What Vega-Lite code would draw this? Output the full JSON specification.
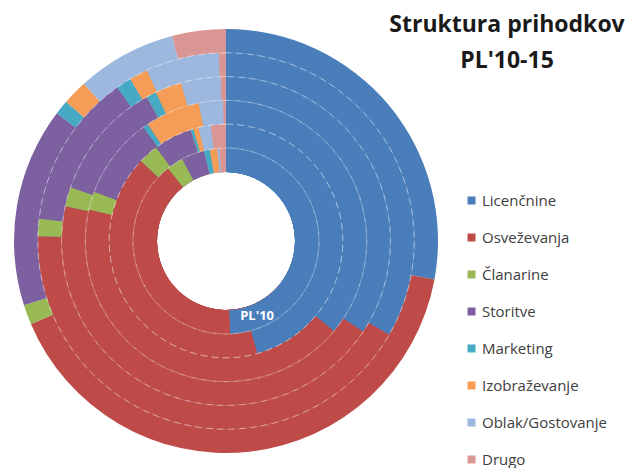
{
  "$schema": "https://vega.github.io/schema/vega-lite/v6.json",
  "width": 452,
  "height": 250,
  "autosize": {"type": "pad"},
  "padding": {"top": 14, "left": 0, "right": 0, "bottom": 0},
  "background": "white",
  "config": {"view": {"stroke": null}, "font": "Open Sans"},
  "title": {
    "text": ["Struktura prihodkov", "PL'10-15"],
    "orient": "top",
    "anchor": "start",
    "frame": "group",
    "align": "center",
    "offset": -44,
    "dx": 507,
    "font": "Open Sans",
    "fontSize": 23,
    "fontWeight": "bold",
    "lineHeight": 36,
    "color": "#1a1a1a"
  },
  "data": {
    "values": [
      {"year": "PL'15", "cat": "Licenčnine", "idx": 1, "value": 27.9},
      {"year": "PL'15", "cat": "Osveževanja", "idx": 2, "value": 40.7},
      {"year": "PL'15", "cat": "Članarine", "idx": 3, "value": 1.5},
      {"year": "PL'15", "cat": "Storitve", "idx": 4, "value": 15.2},
      {"year": "PL'15", "cat": "Marketing", "idx": 5, "value": 1.1},
      {"year": "PL'15", "cat": "Izobraževanje", "idx": 6, "value": 1.9},
      {"year": "PL'15", "cat": "Oblak/Gostovanje", "idx": 7, "value": 7.6},
      {"year": "PL'15", "cat": "Drugo", "idx": 8, "value": 4.1},
      {"year": "PL'14", "cat": "Licenčnine", "idx": 1, "value": 33.3},
      {"year": "PL'14", "cat": "Osveževanja", "idx": 2, "value": 42.1},
      {"year": "PL'14", "cat": "Članarine", "idx": 3, "value": 1.5},
      {"year": "PL'14", "cat": "Storitve", "idx": 4, "value": 13.3},
      {"year": "PL'14", "cat": "Marketing", "idx": 5, "value": 1.3},
      {"year": "PL'14", "cat": "Izobraževanje", "idx": 6, "value": 1.6},
      {"year": "PL'14", "cat": "Oblak/Gostovanje", "idx": 7, "value": 6.3},
      {"year": "PL'14", "cat": "Drugo", "idx": 8, "value": 0.6},
      {"year": "PL'13", "cat": "Licenčnine", "idx": 1, "value": 34.3},
      {"year": "PL'13", "cat": "Osveževanja", "idx": 2, "value": 44.1},
      {"year": "PL'13", "cat": "Članarine", "idx": 3, "value": 1.9},
      {"year": "PL'13", "cat": "Storitve", "idx": 4, "value": 11.7},
      {"year": "PL'13", "cat": "Marketing", "idx": 5, "value": 1.0},
      {"year": "PL'13", "cat": "Izobraževanje", "idx": 6, "value": 2.6},
      {"year": "PL'13", "cat": "Oblak/Gostovanje", "idx": 7, "value": 3.9},
      {"year": "PL'13", "cat": "Drugo", "idx": 8, "value": 0.5},
      {"year": "PL'12", "cat": "Licenčnine", "idx": 1, "value": 36.1},
      {"year": "PL'12", "cat": "Osveževanja", "idx": 2, "value": 42.5},
      {"year": "PL'12", "cat": "Članarine", "idx": 3, "value": 2.1},
      {"year": "PL'12", "cat": "Storitve", "idx": 4, "value": 9.3},
      {"year": "PL'12", "cat": "Marketing", "idx": 5, "value": 0.6},
      {"year": "PL'12", "cat": "Izobraževanje", "idx": 6, "value": 6.3},
      {"year": "PL'12", "cat": "Oblak/Gostovanje", "idx": 7, "value": 2.8},
      {"year": "PL'12", "cat": "Drugo", "idx": 8, "value": 0.3},
      {"year": "PL'11", "cat": "Licenčnine", "idx": 1, "value": 45.7},
      {"year": "PL'11", "cat": "Osveževanja", "idx": 2, "value": 41.3},
      {"year": "PL'11", "cat": "Članarine", "idx": 3, "value": 2.8},
      {"year": "PL'11", "cat": "Storitve", "idx": 4, "value": 5.3},
      {"year": "PL'11", "cat": "Marketing", "idx": 5, "value": 0.4},
      {"year": "PL'11", "cat": "Izobraževanje", "idx": 6, "value": 0.7},
      {"year": "PL'11", "cat": "Oblak/Gostovanje", "idx": 7, "value": 1.7},
      {"year": "PL'11", "cat": "Drugo", "idx": 8, "value": 2.1},
      {"year": "PL'10", "cat": "Licenčnine", "idx": 1, "value": 49.3},
      {"year": "PL'10", "cat": "Osveževanja", "idx": 2, "value": 40.0},
      {"year": "PL'10", "cat": "Članarine", "idx": 3, "value": 2.9},
      {"year": "PL'10", "cat": "Storitve", "idx": 4, "value": 4.0},
      {"year": "PL'10", "cat": "Marketing", "idx": 5, "value": 1.0},
      {"year": "PL'10", "cat": "Izobraževanje", "idx": 6, "value": 1.3},
      {"year": "PL'10", "cat": "Oblak/Gostovanje", "idx": 7, "value": 0.4},
      {"year": "PL'10", "cat": "Drugo", "idx": 8, "value": 1.1}
    ]
  },
  "transform": [
    {"stack": "value", "groupby": ["year"], "sort": [{"field": "idx", "order": "ascending"}], "offset": "normalize", "as": ["v0", "v1"]}
  ],
  "layer": [
    {
      "mark": {"type": "arc"},
      "encoding": {
        "theta": {"field": "v0", "type": "quantitative", "scale": {"domain": [0, 1]}},
        "theta2": {"field": "v1"},
        "radius": {"field": "year", "type": "ordinal", "scale": {"type": "point", "padding": 0, "domain": ["PL'10", "PL'11", "PL'12", "PL'13", "PL'14", "PL'15"], "range": [93, 212]}},
        "radius2": {"value": 69},
        "color": {
          "field": "cat",
          "type": "nominal",
          "scale": {
            "domain": ["Licenčnine", "Osveževanja", "Članarine", "Storitve", "Marketing", "Izobraževanje", "Oblak/Gostovanje", "Drugo"],
            "range": ["#4A7EBB", "#BE4B48", "#98B954", "#7D60A0", "#46AAC5", "#F59D56", "#9CB8DE", "#DA9694"]
          },
          "legend": {
            "title": null,
            "orient": "none",
            "legendX": 464,
            "legendY": 77,
            "symbolType": "square",
            "symbolSize": 64,
            "symbolStrokeWidth": 0,
            "labelFont": "Open Sans",
            "labelFontSize": 15,
            "labelColor": "#404040",
            "labelOffset": 3,
            "rowPadding": 21
          }
        }
      }
    },
    {
      "transform": [
        {"filter": "datum.year !== \"PL'15\""},
        {"aggregate": [{"op": "count", "as": "n"}], "groupby": ["year"]}
      ],
      "mark": {"type": "arc", "theta": 0, "theta2": 6.2832, "filled": false, "stroke": "white", "strokeWidth": 1, "strokeOpacity": 0.3, "strokeDash": [7, 4]},
      "encoding": {
        "radius": {"field": "year", "type": "ordinal"},
        "radius2": {"field": "year"}
      }
    },
    {
      "transform": [{"filter": "datum.year === \"PL'10\" && datum.idx === 1"}],
      "mark": {"type": "text", "font": "Open Sans", "fontSize": 13, "fontWeight": "bold", "color": "white", "thetaOffset": -0.35, "radiusOffset": -12},
      "encoding": {
        "theta": {"field": "v1", "type": "quantitative"},
        "radius": {"field": "year", "type": "ordinal"},
        "text": {"field": "year"}
      }
    }
  ]
}
